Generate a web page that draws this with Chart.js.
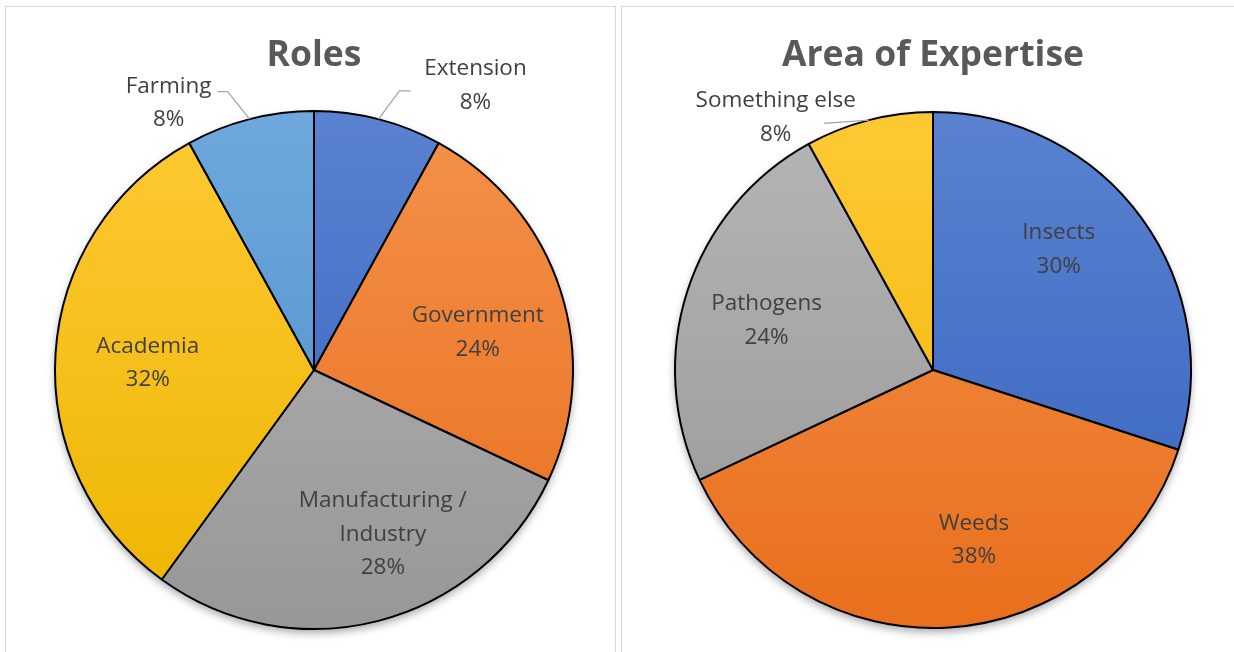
<!DOCTYPE html>
<html>
<head>
<meta charset="utf-8">
<script src="https://cdn.jsdelivr.net/npm/chart.js@4/dist/chart.umd.min.js"></script>
<style>
  html, body { margin: 0; padding: 0; background: #fff; overflow: hidden; }
  body { width: 1234px; height: 652px; position: relative; }
  .panel { position: absolute; top: 6px; height: 660px; border: 1px solid #d9d9d9; box-sizing: border-box; }
  .panel_left { left: 5px; width: 611px; }
  .panel_right { left: 621px; width: 624px; }
  .box { position: absolute; left: 0; top: 0; height: 645px; }
  .panel_left .box { width: 609px; }
  .panel_right .box { width: 622px; }
</style>
</head>
<body>
<div class="panel panel_left"><div class="box"><canvas id="roles"></canvas></div></div>
<div class="panel panel_right"><div class="box"><canvas id="expertise"></canvas></div></div>

<script>
// data
const roles_labels = ['Extension', 'Government', ['Manufacturing /', 'Industry'], 'Academia', 'Farming']
const roles_values = [8, 24, 28, 32, 8]

const area_labels = ['Insects', 'Weeds', 'Pathogens', 'Something else']
const area_values = [30, 38, 24, 8]

// office-like colours, light at top -> dark at bottom
const blue = ['#5a82d0', '#3462be']
const orange = ['#f4914b', '#e86f1c']
const gray = ['#b5b5b5', '#979797']
const gold = ['#ffc935', '#ecb500']
const light_blue = ['#6ea8dc', '#4c8dcc']

const roles_colors = [blue, orange, gray, gold, light_blue]
const area_colors = [blue, orange, gray, gold]

// where each label block sits: angle (deg, clockwise from top) and distance in radii
const roles_places = [
  { a: 29.4, d: 1.27, leader: [[-76, 7.5], [-65, 7.5]] },
  { a: 76.5, d: 0.65 },
  { a: 157, d: 0.68 },
  { a: 273.1, d: 0.643 },
  { a: 331.6, d: 1.18, leader: [[59, -9.5], [49, -9.5]] }
]
const area_places = [
  { a: 45.8, d: 0.68 },
  { a: 166.3, d: 0.67 },
  { a: 287.1, d: 0.675 },
  { a: 328.3, d: 1.16, leader: [[48, 8]] }
]

const FONT = '"Open Sans", "DejaVu Sans", sans-serif'

function gradient(chart, pair) {
  const area = chart.chartArea
  if (!area) return pair[0]
  const g = chart.ctx.createLinearGradient(0, area.top, 0, area.bottom)
  g.addColorStop(0, pair[0])
  g.addColorStop(1, pair[1])
  return g
}

// soft shadow under the whole pie
const shadow_plugin = {
  id: 'pieShadow',
  beforeDatasetsDraw(chart) {
    const arc = chart.getDatasetMeta(0).data[0]
    if (!arc) return
    const ctx = chart.ctx
    ctx.save()
    ctx.shadowColor = 'rgba(0,0,0,0.35)'
    ctx.shadowBlur = 9
    ctx.shadowOffsetY = 4
    ctx.fillStyle = '#888'
    ctx.beginPath()
    ctx.arc(arc.x, arc.y, arc.outerRadius, 0, Math.PI * 2)
    ctx.fill()
    ctx.restore()
  }
}

// category + percent labels, with leader lines for the outside ones
const label_plugin = {
  id: 'sliceLabels',
  afterDatasetsDraw(chart, args, opts) {
    const ctx = chart.ctx
    const meta = chart.getDatasetMeta(0)
    const values = chart.data.datasets[0].data
    const total = values.reduce((a, b) => a + b, 0)
    const line_h = 33.5

    meta.data.forEach((arc, i) => {
      const p = opts.places[i]
      const ang = (p.a - 90) * Math.PI / 180
      const cx = arc.x + Math.cos(ang) * p.d * arc.outerRadius
      const cy = arc.y + Math.sin(ang) * p.d * arc.outerRadius

      let lines = chart.data.labels[i]
      lines = Array.isArray(lines) ? lines.slice() : [lines]
      lines.push(Math.round(values[i] / total * 100) + '%')

      if (p.leader) {
        const mid = (arc.startAngle + arc.endAngle) / 2
        ctx.save()
        ctx.strokeStyle = '#a6a6a6'
        ctx.lineWidth = 1.3
        ctx.beginPath()
        ctx.moveTo(arc.x + Math.cos(mid) * arc.outerRadius, arc.y + Math.sin(mid) * arc.outerRadius)
        p.leader.forEach(pt => ctx.lineTo(cx + pt[0], cy + pt[1]))
        ctx.stroke()
        ctx.restore()
      }

      ctx.save()
      ctx.fillStyle = '#404040'
      ctx.font = '22.5px ' + FONT
      ctx.textAlign = 'center'
      ctx.textBaseline = 'middle'
      const y0 = cy + 2 - (lines.length - 1) * line_h / 2
      lines.forEach((t, k) => ctx.fillText(t, cx, y0 + k * line_h))
      ctx.restore()
    })
  }
}

function make_pie(id, title, labels, values, colors, places, pad) {
  const el = document.getElementById(id)
  return new Chart(el, {
    type: 'pie',
    data: {
      labels: labels,
      datasets: [{
        data: values,
        backgroundColor: c => gradient(c.chart, colors[c.dataIndex % colors.length]),
        borderColor: '#000',
        borderWidth: 2
      }]
    },
    options: {
      responsive: true,
      maintainAspectRatio: false,
      animation: false,
      layout: { padding: pad },
      plugins: {
        legend: { display: false },
        tooltip: { enabled: false },
        title: {
          display: true,
          text: title,
          color: '#595959',
          font: { family: FONT, size: 35.5, weight: 'bold', lineHeight: 1.2 },
          padding: { top: 0, bottom: pad.titleGap }
        },
        sliceLabels: { places: places }
      }
    },
    plugins: [shadow_plugin, label_plugin]
  })
}

make_pie('roles', 'Roles', roles_labels, roles_values, roles_colors, roles_places,
  { top: 28, left: 48, right: 41, bottom: 21, titleGap: 31.4 })
make_pie('expertise', 'Area of Expertise', area_labels, area_values, area_colors, area_places,
  { top: 28, left: 52, right: 52, bottom: 22, titleGap: 32.4 })
</script>
</body>
</html>
